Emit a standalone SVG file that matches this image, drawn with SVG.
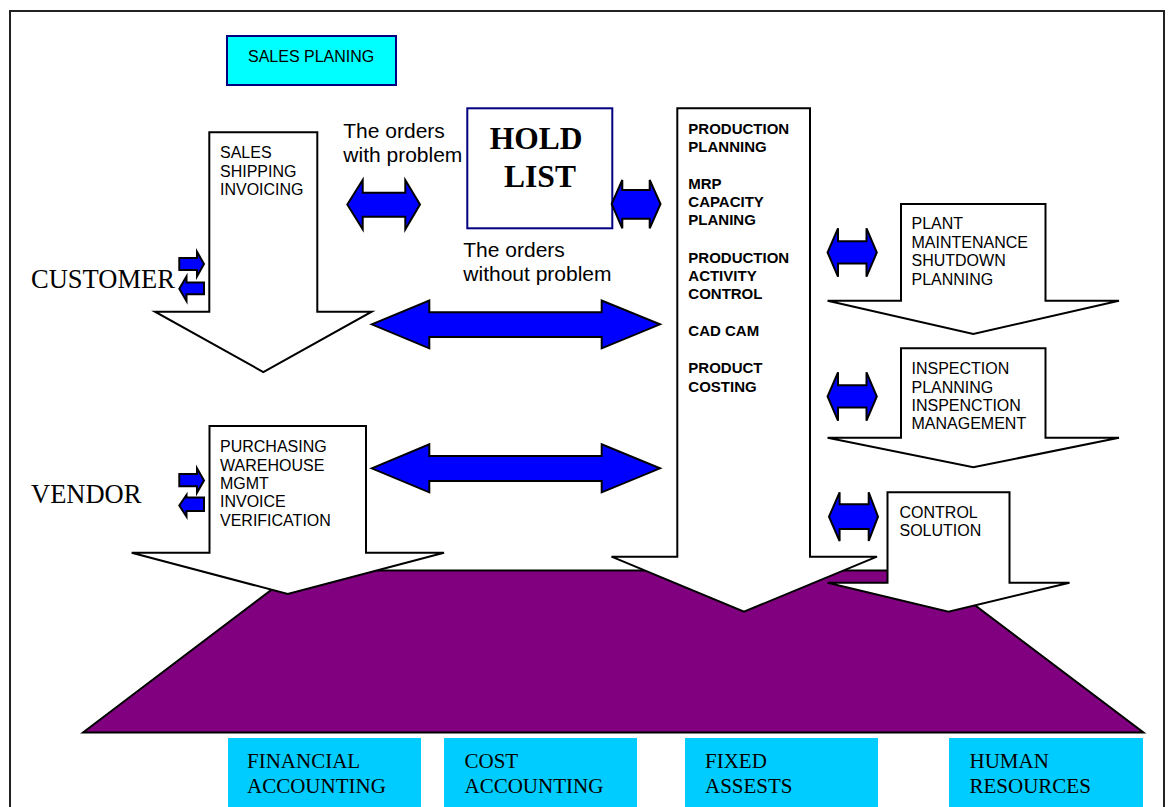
<svg xmlns="http://www.w3.org/2000/svg" width="1170" height="807" viewBox="0 0 1170 807">
  <defs>
    <style>
      .frame { fill: none; stroke: #222; stroke-width: 2; }
      .flow { fill: #fff; stroke: #000; stroke-width: 2; stroke-linejoin: miter; }
      .link { fill: #0000ff; stroke: #000; stroke-width: 2; stroke-linejoin: miter; }
      .base { fill: #800080; stroke: #000; stroke-width: 2; }
      .module { fill: #00ccff; }
      .sans { font-family: "Liberation Sans", Arial, sans-serif; fill: #000; }
      .serif { font-family: "Liberation Serif", "Times New Roman", serif; fill: #000; }
      .small { font-size: 16px; }
      .note { font-size: 21px; }
      .bold { font-size: 15px; font-weight: bold; }
      .party { font-size: 26.5px; }
      .modtext { font-size: 21px; }
    </style>
  </defs>

  <rect width="1170" height="807" fill="#fff"/>
  <rect class="frame" x="10" y="11" width="1154" height="820"/>

  <!-- integration platform underneath all the process flows -->
  <g id="platform">
    <polygon class="base" points="83,732.5 297,570.5 929,570.5 1143.5,732.5"/>
  </g>

  <g id="sales-planing">
    <rect x="227" y="36" width="169" height="49" fill="#00ffff" stroke="#000080" stroke-width="2"/>
    <text class="sans small" x="248" y="62.3">SALES PLANING</text>
  </g>

  <g id="customer">
    <text class="serif party" x="31" y="288.3">CUSTOMER</text>
  </g>

  <g id="vendor">
    <text class="serif party" x="31" y="502.7">VENDOR</text>
  </g>

  <g id="sales">
    <polygon class="flow" points="209.3,132.3 317.3,132.3 317.3,311.7 371.7,311.7 263.3,372 155,311.7 209.3,311.7"/>
    <text class="sans small" x="220">
      <tspan x="220" y="158.3">SALES</tspan>
      <tspan x="220" y="176.6">SHIPPING</tspan>
      <tspan x="220" y="194.9">INVOICING</tspan>
    </text>
  </g>

  <g id="purchasing">
    <polygon class="flow" points="209.5,426 366,426 366,552.7 444,552.7 287.7,594 131.7,552.7 209.5,552.7"/>
    <text class="sans small">
      <tspan x="220" y="452.3">PURCHASING</tspan>
      <tspan x="220" y="470.6">WAREHOUSE</tspan>
      <tspan x="220" y="488.9">MGMT</tspan>
      <tspan x="220" y="507.2">INVOICE</tspan>
      <tspan x="220" y="525.5">VERIFICATION</tspan>
    </text>
  </g>

  <g id="production">
    <polygon class="flow" points="677.3,108.3 810,108.3 810,556.7 877,556.7 744,611.7 611.5,556.7 677.3,556.7"/>
    <text class="sans bold">
      <tspan x="688.3" y="134.3">PRODUCTION</tspan>
      <tspan x="688.3" y="152.3">PLANNING</tspan>
      <tspan x="688.3" y="189.3">MRP</tspan>
      <tspan x="688.3" y="207.3">CAPACITY</tspan>
      <tspan x="688.3" y="225.3">PLANING</tspan>
      <tspan x="688.3" y="263">PRODUCTION</tspan>
      <tspan x="688.3" y="281">ACTIVITY</tspan>
      <tspan x="688.3" y="299">CONTROL</tspan>
      <tspan x="688.3" y="336">CAD CAM</tspan>
      <tspan x="688.3" y="373.3">PRODUCT</tspan>
      <tspan x="688.3" y="391.7">COSTING</tspan>
    </text>
  </g>

  <g id="plant-maintenance">
    <polygon class="flow" points="901,204 1045.5,204 1045.5,300.7 1119,300.7 973.3,334 827.6,300.7 901,300.7"/>
    <text class="sans small">
      <tspan x="911.5" y="229">PLANT</tspan>
      <tspan x="911.5" y="247.7">MAINTENANCE</tspan>
      <tspan x="911.5" y="266.3">SHUTDOWN</tspan>
      <tspan x="911.5" y="285">PLANNING</tspan>
    </text>
  </g>

  <g id="inspection">
    <polygon class="flow" points="901,348.3 1045.5,348.3 1045.5,437.7 1119,437.7 973.3,467.3 827.6,437.7 901,437.7"/>
    <text class="sans small">
      <tspan x="911.5" y="374.2">INSPECTION</tspan>
      <tspan x="911.5" y="392.5">PLANNING</tspan>
      <tspan x="911.5" y="410.8">INSPENCTION</tspan>
      <tspan x="911.5" y="429.1">MANAGEMENT</tspan>
    </text>
  </g>

  <g id="control-solution">
    <polygon class="flow" points="887.5,492.3 1009.5,492.3 1009.5,582.7 1069.5,582.7 948.5,611.7 827.6,582.7 887.5,582.7"/>
    <text class="sans small">
      <tspan x="899.5" y="518.3">CONTROL</tspan>
      <tspan x="899.5" y="536.4">SOLUTION</tspan>
    </text>
  </g>

  <g id="hold-list">
    <rect x="467.3" y="108.3" width="145" height="120" fill="#fff" stroke="#000080" stroke-width="2"/>
    <text class="serif" font-size="31.5" font-weight="bold" text-anchor="middle">
      <tspan x="540" y="149.3">HOLD</tspan>
      <tspan x="540" y="186.7">LIST</tspan>
    </text>
  </g>

  <g id="order-notes">
    <text class="sans note">
      <tspan x="343.3" y="137.7">The orders</tspan>
      <tspan x="343.3" y="161.7">with problem</tspan>
    </text>
    <text class="sans note">
      <tspan x="463.3" y="256.7">The orders</tspan>
      <tspan x="463.3" y="280.7">without problem</tspan>
    </text>
  </g>

  <!-- exchange arrows between parties and modules -->
  <g id="connectors">
    <!-- customer in / out -->
    <polygon class="link" points="179.3,258 197,258 197,251.7 204,264 197,276.5 197,270 179.3,270"/>
    <polygon class="link" points="204,282.5 186.5,282.5 186.5,276.5 179.3,288.7 186.5,301 186.5,294.3 204,294.3"/>
    <!-- vendor in / out -->
    <polygon class="link" points="179.3,474 197,474 197,468.3 204,480.5 197,492.7 197,486.3 179.3,486.3"/>
    <polygon class="link" points="204,497.5 186.5,497.5 186.5,495 179.3,505.5 186.5,516.7 186.5,511 204,511"/>
    <!-- sales <-> hold list -->
    <polygon class="link" points="347.3,204.5 362.7,180 362.7,192.7 405.3,192.7 405.3,180 420,204.5 405.3,229.3 405.3,216.7 362.7,216.7 362.7,229.3"/>
    <!-- hold list <-> production -->
    <polygon class="link" points="611.7,204 622.3,180 622.3,190 649.7,190 649.7,180 660.5,204 649.7,228.3 649.7,218.7 622.3,218.7 622.3,228.3"/>
    <!-- sales <-> production -->
    <polygon class="link" points="371.7,324.3 429.3,300.5 429.3,312.3 601.7,312.3 601.7,300.5 660,324.3 601.7,348.3 601.7,337 429.3,337 429.3,348.3"/>
    <!-- purchasing <-> production -->
    <polygon class="link" points="371.7,468.3 429.3,444.3 429.3,456 601.7,456 601.7,444.3 660,468.3 601.7,492.3 601.7,481 429.3,481 429.3,492.3"/>
    <!-- production <-> plant maintenance -->
    <polygon class="link" points="827.6,252.5 838,228.3 838,241.3 866.5,241.3 866.5,228.3 876.8,252.5 866.5,276.7 866.5,263.5 838,263.5 838,276.7"/>
    <!-- production <-> inspection -->
    <polygon class="link" points="827.6,396.5 838,372.3 838,385.3 866.5,385.3 866.5,372.3 876.8,396.5 866.5,420.7 866.5,407.5 838,407.5 838,420.7"/>
    <!-- production <-> control solution -->
    <polygon class="link" points="829,516.7 839.6,492.3 839.6,504.3 868.7,504.3 868.7,492.3 878,516.7 868.7,541 868.7,529 839.6,529 839.6,541"/>
  </g>

  <g id="financial-accounting">
    <rect class="module" x="228" y="738" width="193" height="75"/>
    <text class="serif modtext"><tspan x="247" y="767.7">FINANCIAL</tspan><tspan x="247" y="792.7">ACCOUNTING</tspan></text>
  </g>
  <g id="cost-accounting">
    <rect class="module" x="444" y="738" width="193" height="75"/>
    <text class="serif modtext"><tspan x="464.5" y="767.7">COST</tspan><tspan x="464.5" y="792.7">ACCOUNTING</tspan></text>
  </g>
  <g id="fixed-assets">
    <rect class="module" x="685" y="738" width="193" height="75"/>
    <text class="serif modtext"><tspan x="705" y="767.7">FIXED</tspan><tspan x="705" y="792.7">ASSESTS</tspan></text>
  </g>
  <g id="human-resources">
    <rect class="module" x="949" y="738" width="194" height="75"/>
    <text class="serif modtext"><tspan x="969.5" y="767.7">HUMAN</tspan><tspan x="969.5" y="792.7">RESOURCES</tspan></text>
  </g>
</svg>
